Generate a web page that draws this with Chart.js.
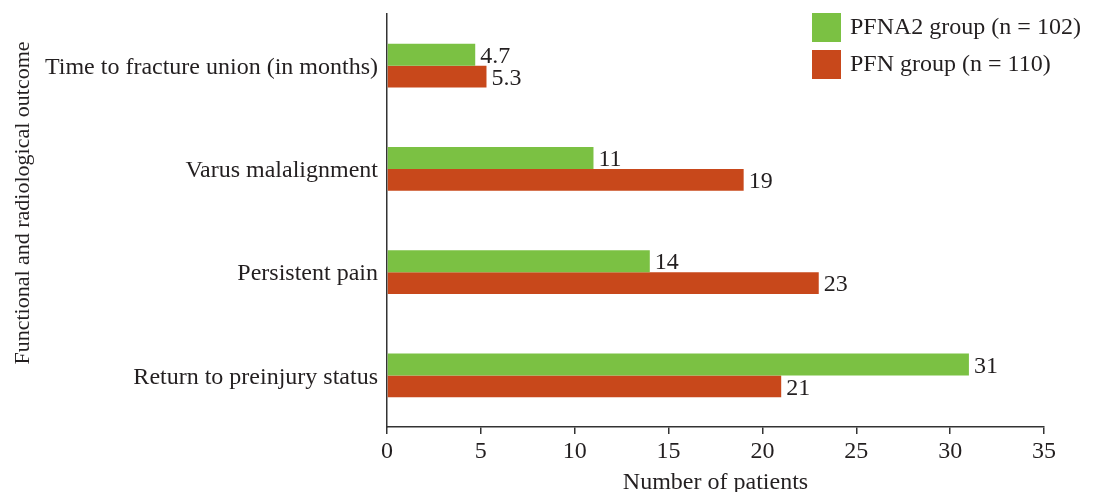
<!DOCTYPE html>
<html>
<head>
<meta charset="utf-8">
<script src="https://cdn.jsdelivr.net/npm/chart.js@4"></script>
<style>
  html, body { margin: 0; padding: 0; background: #fff; }
  #wrap { width: 1096px; height: 492px; }
</style>
</head>
<body>
<div id="wrap"><canvas id="myChart" width="1096" height="492"></canvas></div>
<script>
const outcomes = [
  "Time to fracture union (in months)",
  "Varus malalignment",
  "Persistent pain",
  "Return to preinjury status",
];
const pfna2Values = [4.7, 11, 14, 31];
const pfnValues = [5.3, 19, 23, 21];
const xTicks = [0, 5, 10, 15, 20, 25, 30, 35];

const FONT = "'Liberation Serif', 'Times New Roman', serif";
const TEXT = "#231f20";
const AXIS = "#333";

// value labels at the end of each bar
const valueLabels = {
  id: "valueLabels",
  afterDatasetsDraw(chart) {
    const c = chart.ctx;
    c.save();
    c.font = "24px " + FONT;
    c.fillStyle = TEXT;
    c.textAlign = "left";
    c.textBaseline = "middle";
    chart.data.datasets.forEach((ds, i) => {
      chart.getDatasetMeta(i).data.forEach((bar, j) => {
        c.fillText(String(ds.data[j]), bar.x + 5, bar.y + 2);
      });
    });
    c.restore();
  },
};

// legend in the top right corner
const cornerLegend = {
  id: "cornerLegend",
  afterDraw(chart) {
    const c = chart.ctx;
    c.save();
    c.font = "24px " + FONT;
    c.textAlign = "left";
    c.textBaseline = "middle";
    chart.data.datasets.forEach((ds, i) => {
      const y = 13 + i * 37;
      c.fillStyle = ds.backgroundColor;
      c.fillRect(812, y, 29, 29);
      c.fillStyle = TEXT;
      c.fillText(ds.label, 850, y + 15);
    });
    c.restore();
  },
};

// rotated y axis title
const yTitle = {
  id: "yTitle",
  afterDraw(chart) {
    const c = chart.ctx;
    c.save();
    c.font = "22px " + FONT;
    c.fillStyle = TEXT;
    c.textAlign = "center";
    c.textBaseline = "middle";
    c.translate(23, 203);
    c.rotate(-Math.PI / 2);
    c.fillText("Functional and radiological outcome", 0, 0);
    c.restore();
  },
};

const ctx = document.getElementById("myChart");
new Chart(ctx, {
  type: "bar",
  data: {
    labels: outcomes,
    datasets: [
      {
        label: "PFNA2 group (n = 102)",
        data: pfna2Values,
        backgroundColor: "#7bc143",
      },
      {
        label: "PFN group (n = 110)",
        data: pfnValues,
        backgroundColor: "#c8481b",
      },
    ],
  },
  options: {
    indexAxis: "y",
    responsive: false,
    animation: false,
    devicePixelRatio: 1,
    layout: { padding: { top: 14, right: 52, left: 0, bottom: 0 } },
    datasets: {
      bar: { barPercentage: 1, categoryPercentage: 0.425 },
    },
    plugins: {
      legend: { display: false },
      tooltip: { enabled: false },
    },
    scales: {
      x: {
        min: 0,
        max: 35,
        afterBuildTicks(scale) {
          scale.ticks = xTicks.map((v) => ({ value: v }));
        },
        afterFit(scale) {
          scale.height = 65;
        },
        grid: {
          drawOnChartArea: false,
          drawTicks: true,
          tickLength: 7,
          color: AXIS,
          lineWidth: 1.5,
        },
        border: { display: true, color: AXIS, width: 1.5 },
        ticks: {
          color: TEXT,
          font: { family: FONT, size: 24 },
          padding: 3,
          maxRotation: 0,
        },
        title: {
          display: true,
          text: "Number of patients",
          color: TEXT,
          font: { family: FONT, size: 24, lineHeight: 0.8 },
          padding: { top: 0, bottom: 0 },
        },
      },
      y: {
        afterFit(scale) {
          scale.width = 387;
          scale.paddingTop = 0;
          scale.paddingBottom = 0;
        },
        grid: { display: false, drawTicks: false },
        border: { display: true, color: AXIS, width: 1.5 },
        ticks: {
          color: TEXT,
          font: { family: FONT, size: 24 },
          padding: 9,
          labelOffset: 2,
        },
      },
    },
  },
  plugins: [valueLabels, cornerLegend, yTitle],
});
</script>
</body>
</html>
